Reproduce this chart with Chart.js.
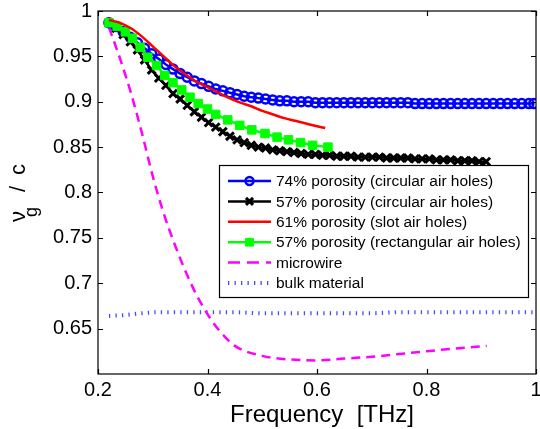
<!DOCTYPE html>
<html>
<head>
<meta charset="utf-8">
<script src="https://cdn.jsdelivr.net/npm/chart.js@4.4.0/dist/chart.umd.min.js"></script>
<style>
  html, body { margin: 0; padding: 0; background: #fff; }
  #wrap { width: 540px; height: 429px; }
</style>
</head>
<body>
<div id="wrap"><canvas id="groupVelocityChart" width="540" height="429"></canvas></div>
<script>
// frequency grid shared by the two circular-hole curves (THz)
const freqCircular = [
  0.220, 0.233, 0.246, 0.259, 0.272, 0.285, 0.298, 0.311, 0.324, 0.337,
  0.350, 0.363, 0.376, 0.389, 0.402, 0.415, 0.428, 0.441, 0.454, 0.467,
  0.480, 0.493, 0.506, 0.519, 0.532, 0.545, 0.558, 0.571, 0.584, 0.597,
  0.610, 0.623, 0.636, 0.649, 0.662, 0.675, 0.688, 0.701, 0.714, 0.727,
  0.740, 0.753, 0.766, 0.779, 0.792, 0.805, 0.818, 0.831, 0.844, 0.857,
  0.870, 0.883, 0.896, 0.909, 0.922, 0.935, 0.948, 0.961, 0.974, 0.987,
  0.996
];
const porosity74Circ = [
  0.987, 0.983, 0.977, 0.971, 0.965, 0.959, 0.953, 0.947, 0.941, 0.936,
  0.931, 0.927, 0.923, 0.920, 0.917, 0.914, 0.912, 0.910, 0.908, 0.906,
  0.905, 0.904, 0.903, 0.902, 0.901, 0.901, 0.900, 0.900, 0.900, 0.899,
  0.899, 0.899, 0.899, 0.899, 0.899, 0.899, 0.899, 0.899, 0.899, 0.899,
  0.899, 0.899, 0.899, 0.898, 0.898, 0.898, 0.898, 0.898, 0.898, 0.898,
  0.898, 0.898, 0.898, 0.898, 0.898, 0.898, 0.898, 0.898, 0.898, 0.898,
  0.898
];
const porosity57Circ = [
  0.987, 0.981, 0.974, 0.966, 0.957, 0.946, 0.935, 0.926, 0.918, 0.909,
  0.903, 0.896, 0.889, 0.883, 0.877, 0.872, 0.867, 0.862, 0.858, 0.855,
  0.852, 0.850, 0.849, 0.847, 0.846, 0.845, 0.844, 0.843, 0.842, 0.842,
  0.841, 0.841, 0.840, 0.840, 0.840, 0.839, 0.839, 0.839, 0.839, 0.838,
  0.838, 0.838, 0.838, 0.837, 0.837, 0.837, 0.836, 0.836, 0.836, 0.835,
  0.835, 0.835, 0.834, 0.834
];

const freqSlot = [0.22, 0.24, 0.26, 0.28, 0.30, 0.32, 0.34, 0.36, 0.38, 0.40,
  0.42, 0.44, 0.46, 0.48, 0.50, 0.52, 0.54, 0.56, 0.58, 0.60, 0.615];
const porosity61Slot = [0.990, 0.987, 0.981, 0.972, 0.961, 0.950, 0.939, 0.930, 0.922, 0.916,
  0.910, 0.904, 0.899, 0.895, 0.890, 0.886, 0.882, 0.879, 0.876, 0.873, 0.871];

const freqRect = [0.220, 0.235, 0.250, 0.263, 0.277, 0.291, 0.307, 0.322, 0.337, 0.353,
  0.368, 0.383, 0.400, 0.415, 0.437, 0.459, 0.481, 0.505, 0.527, 0.548, 0.570, 0.592, 0.620];
const porosity57Rect = [0.987, 0.983, 0.977, 0.970, 0.960, 0.949, 0.940, 0.929, 0.921, 0.913,
  0.905, 0.898, 0.892, 0.886, 0.880, 0.874, 0.869, 0.865, 0.861, 0.858, 0.855, 0.852, 0.850];

const freqWire = [0.22, 0.24, 0.26, 0.28, 0.30, 0.32, 0.34, 0.36, 0.38, 0.40, 0.42,
  0.45, 0.50, 0.55, 0.60, 0.65, 0.70, 0.75, 0.80, 0.85, 0.91];
const microwire = [0.982, 0.948, 0.910, 0.866, 0.818, 0.777, 0.743, 0.713, 0.687, 0.666, 0.649,
  0.631, 0.620, 0.616, 0.615, 0.617, 0.619, 0.622, 0.625, 0.628, 0.631];

const freqBulk = [0.22, 0.25, 0.28, 0.31, 0.35, 0.40, 0.45, 0.50, 0.55, 0.60,
  0.65, 0.70, 0.75, 0.80, 0.85, 0.90, 0.95, 1.00];
const bulkMaterial = [0.664, 0.665, 0.667, 0.668, 0.668, 0.668, 0.668, 0.667, 0.667, 0.667,
  0.667, 0.667, 0.668, 0.668, 0.668, 0.668, 0.668, 0.668];

const xTicks = [0.2, 0.4, 0.6, 0.8, 1.0];
const yTicks = [0.65, 0.7, 0.75, 0.8, 0.85, 0.9, 0.95, 1.0];

const FONT = "'Liberation Sans', Arial, Helvetica, sans-serif";
const PLOT_RIGHT = 536;

function pts(xs, ys) {
  return ys.map((y, i) => ({ x: xs[i], y: y }));
}
function fmt(v) {
  return String(parseFloat(Number(v).toFixed(2)));
}

// box, inward ticks on all four sides, legend and axis titles
const matlabAxes = {
  id: "matlabAxes",
  afterLayout(chart) {
    // let the plot run up to the right edge like the original figure
    const xs = chart.scales.x;
    chart.chartArea.right = PLOT_RIGHT;
    chart.chartArea.width = PLOT_RIGHT - chart.chartArea.left;
    xs.right = PLOT_RIGHT;
    xs.width = PLOT_RIGHT - xs.left;
    xs.configure();
  },
  afterDraw(chart) {
    const ctx = chart.ctx;
    const a = chart.chartArea;
    const xs = chart.scales.x;
    const ys = chart.scales.y;
    const tk = 5;

    ctx.save();
    ctx.strokeStyle = "#000";
    ctx.lineWidth = 1.2;
    ctx.strokeRect(a.left, a.top, a.right - a.left, a.bottom - a.top);
    ctx.beginPath();
    xTicks.forEach((v) => {
      const px = Math.round(xs.getPixelForValue(v)) + 0.5;
      ctx.moveTo(px, a.bottom); ctx.lineTo(px, a.bottom - tk);
      ctx.moveTo(px, a.top); ctx.lineTo(px, a.top + tk);
    });
    yTicks.forEach((v) => {
      const py = Math.round(ys.getPixelForValue(v)) + 0.5;
      ctx.moveTo(a.left, py); ctx.lineTo(a.left + tk, py);
      ctx.moveTo(a.right, py); ctx.lineTo(a.right - tk, py);
    });
    ctx.stroke();

    // legend
    const lx = 219, ly = 165, lw = 309, lh = 132;
    ctx.fillStyle = "#fff";
    ctx.fillRect(lx, ly, lw, lh);
    ctx.lineWidth = 1.2;
    ctx.strokeStyle = "#000";
    ctx.strokeRect(lx + 0.5, ly + 0.5, lw, lh);
    ctx.font = "15.5px " + FONT;
    ctx.textBaseline = "middle";
    ctx.textAlign = "left";
    chart.data.datasets.forEach((ds, i) => {
      const y = ly + 16 + i * 20.4;
      const x0 = lx + 9, x1 = lx + 52;
      ctx.save();
      ctx.strokeStyle = ds.borderColor;
      ctx.lineWidth = ds.borderWidth;
      ctx.setLineDash(ds.legendDash || []);
      ctx.beginPath();
      ctx.moveTo(x0, y); ctx.lineTo(x1, y);
      ctx.stroke();
      ctx.setLineDash([]);
      if (ds.pointRadius > 0) {
        ctx.strokeStyle = ds.pointBorderColor;
        ctx.fillStyle = ds.pointBackgroundColor;
        ctx.lineWidth = ds.pointBorderWidth;
        Chart.helpers.drawPoint(ctx, {
          pointStyle: ds.pointStyle, radius: ds.legendRadius || ds.pointRadius,
          borderWidth: ds.pointBorderWidth, rotation: 0
        }, (x0 + x1) / 2, y);
      }
      ctx.restore();
      ctx.fillStyle = "#000";
      ctx.fillText(ds.label, lx + 57, y + 1);
    });

    // x title
    ctx.fillStyle = "#000";
    ctx.font = "24px " + FONT;
    ctx.textAlign = "center";
    ctx.textBaseline = "alphabetic";
    ctx.fillText("Frequency  [THz]", 322, 422);

    // y title: nu with subscript g, over c
    ctx.translate(25, 0);
    ctx.rotate(-Math.PI / 2);
    ctx.textAlign = "left";
    ctx.font = "22px " + FONT;
    ctx.fillText("\u03bd", -222, 0);
    ctx.font = "18px " + FONT;
    ctx.fillText("g", -217, 11.5);
    ctx.font = "22px " + FONT;
    ctx.fillText("/", -192, 0);
    ctx.fillText("c", -175, 0);
    ctx.restore();
  }
};

const datasets = [
  {
    label: "74% porosity (circular air holes)",
    data: pts(freqCircular, porosity74Circ),
    borderColor: "#0000ff", borderWidth: 2.5,
    pointStyle: "circle", pointRadius: 4.5, pointBorderWidth: 2.5, legendRadius: 4,
    pointBorderColor: "#0000ff", pointBackgroundColor: "rgba(255,255,255,0)",
    order: 3
  },
  {
    label: "57% porosity (circular air holes)",
    data: pts(freqCircular, porosity57Circ),
    borderColor: "#000000", borderWidth: 2.5,
    pointStyle: "crossRot", pointRadius: 5.5, pointBorderWidth: 3, legendRadius: 5,
    pointBorderColor: "#000000", pointBackgroundColor: "#000000",
    order: 2
  },
  {
    label: "61% porosity (slot air holes)",
    data: pts(freqSlot, porosity61Slot),
    borderColor: "#ff0000", borderWidth: 2.5,
    pointRadius: 0, cubicInterpolationMode: "monotone",
    order: 0
  },
  {
    label: "57% porosity (rectangular air holes)",
    data: pts(freqRect, porosity57Rect),
    borderColor: "#00ff00", borderWidth: 2.5,
    pointStyle: "rect", pointRadius: 6, pointBorderWidth: 1, legendRadius: 5.5,
    pointBorderColor: "#00ff00", pointBackgroundColor: "#00ff00",
    order: 1
  },
  {
    label: "microwire",
    data: pts(freqWire, microwire),
    borderColor: "#ff00ff", borderWidth: 2.5,
    borderDash: [9, 6], legendDash: [12, 7],
    pointRadius: 0, cubicInterpolationMode: "monotone",
    order: 4
  },
  {
    label: "bulk material",
    data: pts(freqBulk, bulkMaterial),
    borderColor: "#4a4aff", borderWidth: 4,
    borderDash: [1.3, 5.2], legendDash: [1.3, 5.2],
    pointRadius: 0, cubicInterpolationMode: "monotone",
    order: 5
  }
];

new Chart(document.getElementById("groupVelocityChart"), {
  type: "line",
  data: { datasets: datasets },
  options: {
    responsive: false,
    devicePixelRatio: 1,
    animation: false,
    layout: { padding: { left: 0, right: 4, top: 11, bottom: 0 } },
    plugins: {
      legend: { display: false },
      title: { display: false },
      tooltip: { enabled: false }
    },
    scales: {
      x: {
        type: "linear", min: 0.2, max: 1,
        afterBuildTicks: (scale) => { scale.ticks = xTicks.map((v) => ({ value: v })); },
        afterFit: (scale) => {
          scale.height = 55;
          scale.paddingLeft = 0;
          scale.paddingRight = 0;
        },
        ticks: {
          color: "#000", font: { family: FONT, size: 20 }, padding: 4,
          maxRotation: 0, autoSkip: false, callback: (v) => fmt(v)
        },
        grid: { display: false, drawTicks: false },
        border: { display: false }
      },
      y: {
        type: "linear", min: 0.6, max: 1,
        afterBuildTicks: (scale) => { scale.ticks = yTicks.map((v) => ({ value: v })); },
        afterFit: (scale) => {
          scale.width = 98;
          scale.paddingTop = 0;
          scale.paddingBottom = 0;
        },
        ticks: {
          color: "#000", font: { family: FONT, size: 20 }, padding: 6,
          autoSkip: false, callback: (v) => fmt(v)
        },
        grid: { display: false, drawTicks: false },
        border: { display: false }
      }
    }
  },
  plugins: [matlabAxes]
});
</script>
</body>
</html>
